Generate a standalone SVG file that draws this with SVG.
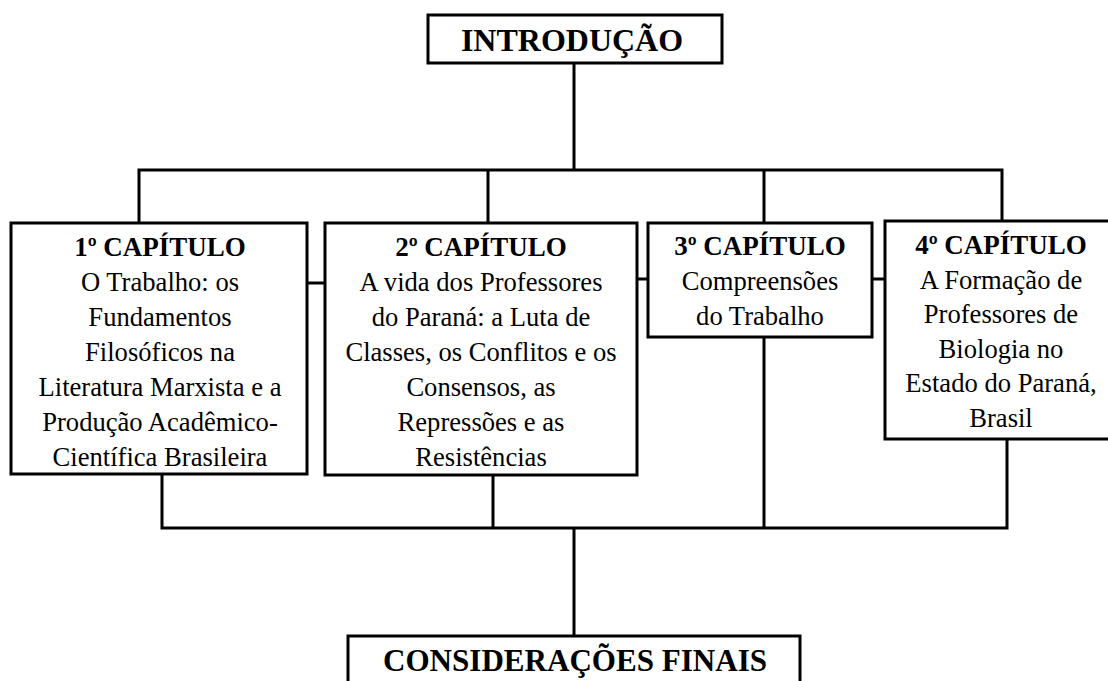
<svg xmlns="http://www.w3.org/2000/svg" width="1108" height="681" viewBox="0 0 1108 681">
<style>
.box{fill:#fff;stroke:#000;stroke-width:3}
.ln{fill:none;stroke:#000;stroke-width:3}
text{font-family:"Liberation Serif","Times New Roman",serif;fill:#000;text-anchor:middle}
.t{font-size:27px;font-weight:bold}
.b{font-size:26.6px}
.h{font-size:32px;font-weight:bold}
</style>
<rect width="1108" height="681" fill="#fff"/>
<g id="connectors">
<path class="ln" d="M574,63 V170 M139,222 V170 H1002 V221 M488,170 V223 M764,170 V223"/>
<path class="ln" d="M307,283 H325 M637,279 H648 M872,279 H885"/>
<path class="ln" d="M162,474 V528 H1007 V439 M493,475 V528 M764,337 V528 M574,528 V636"/>
</g>
<g id="intro">
<rect class="box" x="428" y="15" width="294" height="48"/>
<text class="h" x="572" y="51">INTRODUÇÃO</text>
</g>
<g id="cap1">
<rect class="box" x="11" y="223" width="296" height="251"/>
<text x="160" y="256"><tspan class="t">1º CAPÍTULO</tspan><tspan class="b" x="160" dy="35">O Trabalho: os</tspan><tspan class="b" x="160" dy="35">Fundamentos</tspan><tspan class="b" x="160" dy="35">Filosóficos  na</tspan><tspan class="b" x="160" dy="35">Literatura Marxista e a</tspan><tspan class="b" x="160" dy="35">Produção Acadêmico-</tspan><tspan class="b" x="160" dy="35">Científica Brasileira</tspan></text>
</g>
<g id="cap2">
<rect class="box" x="325" y="223" width="312" height="252"/>
<text x="481" y="256"><tspan class="t">2º CAPÍTULO</tspan><tspan class="b" x="481" dy="35">A vida dos Professores</tspan><tspan class="b" x="481" dy="35">do Paraná: a Luta de</tspan><tspan class="b" x="481" dy="35">Classes, os Conflitos e os</tspan><tspan class="b" x="481" dy="35">Consensos, as</tspan><tspan class="b" x="481" dy="35">Repressões e as</tspan><tspan class="b" x="481" dy="35">Resistências</tspan></text>
</g>
<g id="cap3">
<rect class="box" x="648" y="223" width="224" height="114"/>
<text x="760" y="255"><tspan class="t">3º CAPÍTULO</tspan><tspan class="b" x="760" dy="35">Compreensões</tspan><tspan class="b" x="760" dy="35">do Trabalho</tspan></text>
</g>
<g id="cap4">
<rect class="box" x="885" y="221" width="234" height="218"/>
<text x="1001" y="254"><tspan class="t">4º CAPÍTULO</tspan><tspan class="b" x="1001" dy="34.5">A Formação de</tspan><tspan class="b" x="1001" dy="34.5">Professores de</tspan><tspan class="b" x="1001" dy="34.5">Biologia no</tspan><tspan class="b" x="1001" dy="34.5">Estado do Paraná,</tspan><tspan class="b" x="1001" dy="34.5">Brasil</tspan></text>
</g>
<g id="final">
<rect class="box" x="348" y="636" width="452" height="60"/>
<text class="h" x="575" y="671" style="font-size:31px" textLength="384" lengthAdjust="spacingAndGlyphs">CONSIDERAÇÕES FINAIS</text>
</g>
</svg>
